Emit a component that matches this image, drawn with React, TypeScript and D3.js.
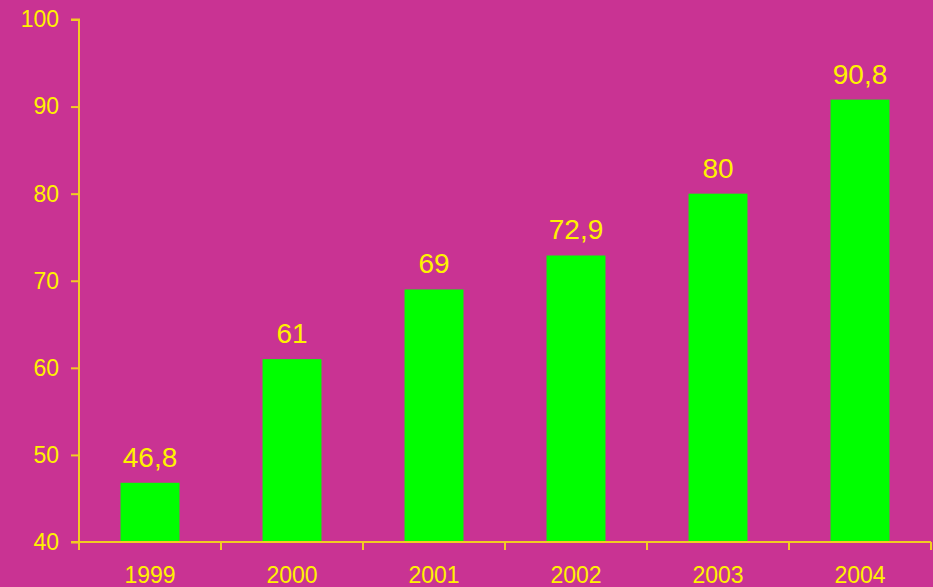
import * as d3 from 'd3'
import { useRef, useEffect } from 'react'

const years = ['1999', '2000', '2001', '2002', '2003', '2004']
const values = [46.8, 61, 69, 72.9, 80, 90.8]
const valueLabels = ['46,8', '61', '69', '72,9', '80', '90,8']
const yTicks = [40, 50, 60, 70, 80, 90, 100]

const width = 933
const height = 587
const margin = { top: 19.5, right: 2, bottom: 45, left: 79 }

const BG = '#C93393'
const BAR = '#00FF00'
const TEXT = '#FFF200'
const LINE = '#F2CC22'

export default function App() {
  const svgRef = useRef<SVGSVGElement>(null)

  useEffect((): void => {
    document.body.style.margin = '0'
    const svg = d3.select(svgRef.current)
    svg.selectAll('*').remove()

    const x = d3.scaleBand<string>()
      .domain(years)
      .range([margin.left, width - margin.right])
      .paddingInner(0.585)
      .paddingOuter(0.2925)
    const y = d3.scaleLinear()
      .domain([40, 100])
      .range([height - margin.bottom, margin.top])

    svg.append('rect')
      .attr('width', width)
      .attr('height', height)
      .attr('fill', BG)

    svg.selectAll('rect.bar')
      .data(values)
      .enter()
      .append('rect')
      .attr('class', 'bar')
      .attr('x', (d, i) => x(years[i])!)
      .attr('y', d => y(d))
      .attr('width', x.bandwidth())
      .attr('height', d => y(40) - y(d))
      .attr('fill', BAR)

    svg.selectAll('text.val')
      .data(values)
      .enter()
      .append('text')
      .attr('class', 'val')
      .attr('x', (d, i) => x(years[i])! + x.bandwidth() / 2)
      .attr('y', d => y(d) - 16)
      .attr('text-anchor', 'middle')
      .attr('font-family', 'Liberation Sans, Arial, sans-serif')
      .attr('font-size', 28)
      .attr('fill', TEXT)
      .text((d, i) => valueLabels[i])

    // y axis
    const yAxis = d3.axisLeft(y)
      .tickValues(yTicks)
      .tickSize(8)
      .tickPadding(12)
      .tickFormat(d => String(d))
    const gy = svg.append('g')
      .attr('transform', `translate(${margin.left},0)`)
      .call(yAxis)
    gy.select('.domain').attr('stroke', LINE).attr('stroke-width', 2)
      .attr('d', `M-8,${y(100)}H0V${y(40)}`)
    gy.selectAll('.tick line').attr('stroke', LINE).attr('stroke-width', 2)
    gy.selectAll('.tick text')
      .attr('fill', TEXT)
      .attr('font-family', 'Liberation Sans, Arial, sans-serif')
      .attr('font-size', 23)

    // x axis with ticks at band boundaries
    const step = x.step()
    const boundaries = d3.range(years.length + 1).map(i => margin.left + i * step)
    const gx = svg.append('g')
    gx.append('line')
      .attr('x1', margin.left - 8)
      .attr('x2', width - margin.right)
      .attr('y1', y(40))
      .attr('y2', y(40))
      .attr('stroke', LINE)
      .attr('stroke-width', 2)
    gx.selectAll('line.tk')
      .data(boundaries)
      .enter()
      .append('line')
      .attr('class', 'tk')
      .attr('x1', d => d)
      .attr('x2', d => d)
      .attr('y1', y(40))
      .attr('y2', y(40) + 8)
      .attr('stroke', LINE)
      .attr('stroke-width', 2)
    gx.selectAll('text')
      .data(years)
      .enter()
      .append('text')
      .attr('x', d => x(d)! + x.bandwidth() / 2)
      .attr('y', y(40) + 41)
      .attr('text-anchor', 'middle')
      .attr('font-family', 'Liberation Sans, Arial, sans-serif')
      .attr('font-size', 23)
      .attr('fill', TEXT)
      .text(d => d)
  }, [])

  return <svg ref={svgRef} width={width} height={height} style={{ display: 'block' }}></svg>
}
